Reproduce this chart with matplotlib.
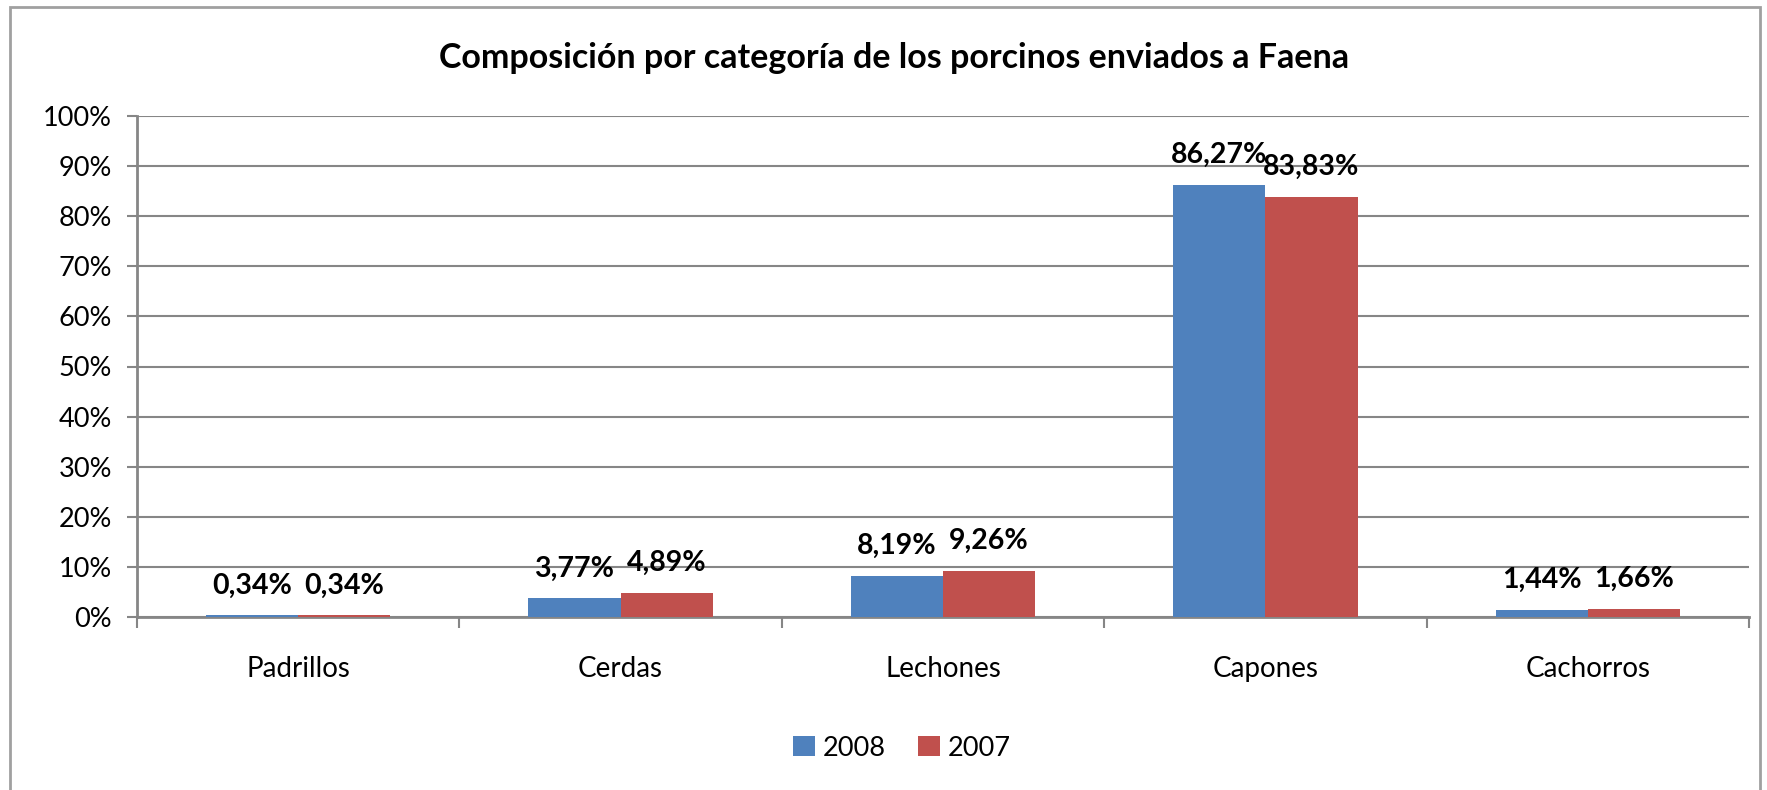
import matplotlib
matplotlib.use("Agg")
import matplotlib.pyplot as plt
import numpy as np
from matplotlib.patches import Rectangle

plt.rcParams['font.family'] = ['Lato', 'DejaVu Sans']

categories = ['Padrillos', 'Cerdas', 'Lechones', 'Capones', 'Cachorros']
series_names = ['2008', '2007']
vals_2008 = [0.34, 3.77, 8.19, 86.27, 1.44]
vals_2007 = [0.34, 4.89, 9.26, 83.83, 1.66]
colors = ['#4F81BD', '#C0504D']
grid_color = '#868686'

W, H = 1767, 790
fig = plt.figure(figsize=(W / 100, H / 100), dpi=100)
ax = fig.add_axes([137 / W, 1 - 617 / H, (1749 - 137) / W, (617 - 116) / H])

x = np.arange(len(categories))
width = 1 / 3.5  # excel default gap width 150%

bars = []
for i, (vals, name) in enumerate(zip([vals_2008, vals_2007], series_names)):
    b = ax.bar(x + (i - 0.5) * width, vals, width, color=colors[i], label=name,
               align='center', zorder=3)
    bars.append(b)

def autolabel(rects):
    for rect in rects:
        h = rect.get_height()
        ax.annotate('{:.2f}%'.format(h).replace('.', ','),
                    xy=(rect.get_x() + rect.get_width() / 2, h),
                    xytext=(0, 12), textcoords="offset points",
                    ha='center', va='bottom', fontsize=20.5, fontweight='bold',
                    zorder=4)

for b in bars:
    autolabel(b)

ax.set_xlim(-0.5, len(categories) - 0.5)
ax.set_ylim(0, 100)
ax.set_yticks(np.arange(0, 101, 10))
ax.set_yticklabels(['{}%'.format(v) for v in range(0, 101, 10)], fontsize=19.5)
ax.yaxis.grid(True, color=grid_color, linewidth=1.5, zorder=0)
ax.tick_params(axis='y', length=7, width=1.5, color=grid_color, pad=11)

ax.set_xticks(np.arange(-0.5, len(categories)))
ax.set_xticklabels([])
ax.tick_params(axis='x', which='major', length=8, width=1.5, color=grid_color)
ax.set_xticks(x, minor=True)
ax.set_xticklabels(categories, minor=True, fontsize=20)
ax.tick_params(axis='x', which='minor', length=0, pad=28)

for side in ['top', 'right']:
    ax.spines[side].set_visible(False)
for side in ['left', 'bottom']:
    ax.spines[side].set_color(grid_color)
    ax.spines[side].set_linewidth(2)

fig.text(0.506, 1 - 58 / H, 'Composición por categoría de los porcinos enviados a Faena',
         ha='center', va='center', fontsize=24.5, fontweight='bold')

fig.legend(loc='center', bbox_to_anchor=(902 / W, 1 - 748 / H), ncol=2, frameon=False,
           fontsize=19.5, handlelength=0.8, handleheight=0.8, handletextpad=0.3,
           columnspacing=1.2)

fig.patches.append(Rectangle((10 / W, -0.05), (1760 - 10) / W, 1.05 - 7 / H,
                             transform=fig.transFigure, fill=False,
                             edgecolor='#A0A0A0', linewidth=2))

fig.savefig('out.png', dpi=100)
